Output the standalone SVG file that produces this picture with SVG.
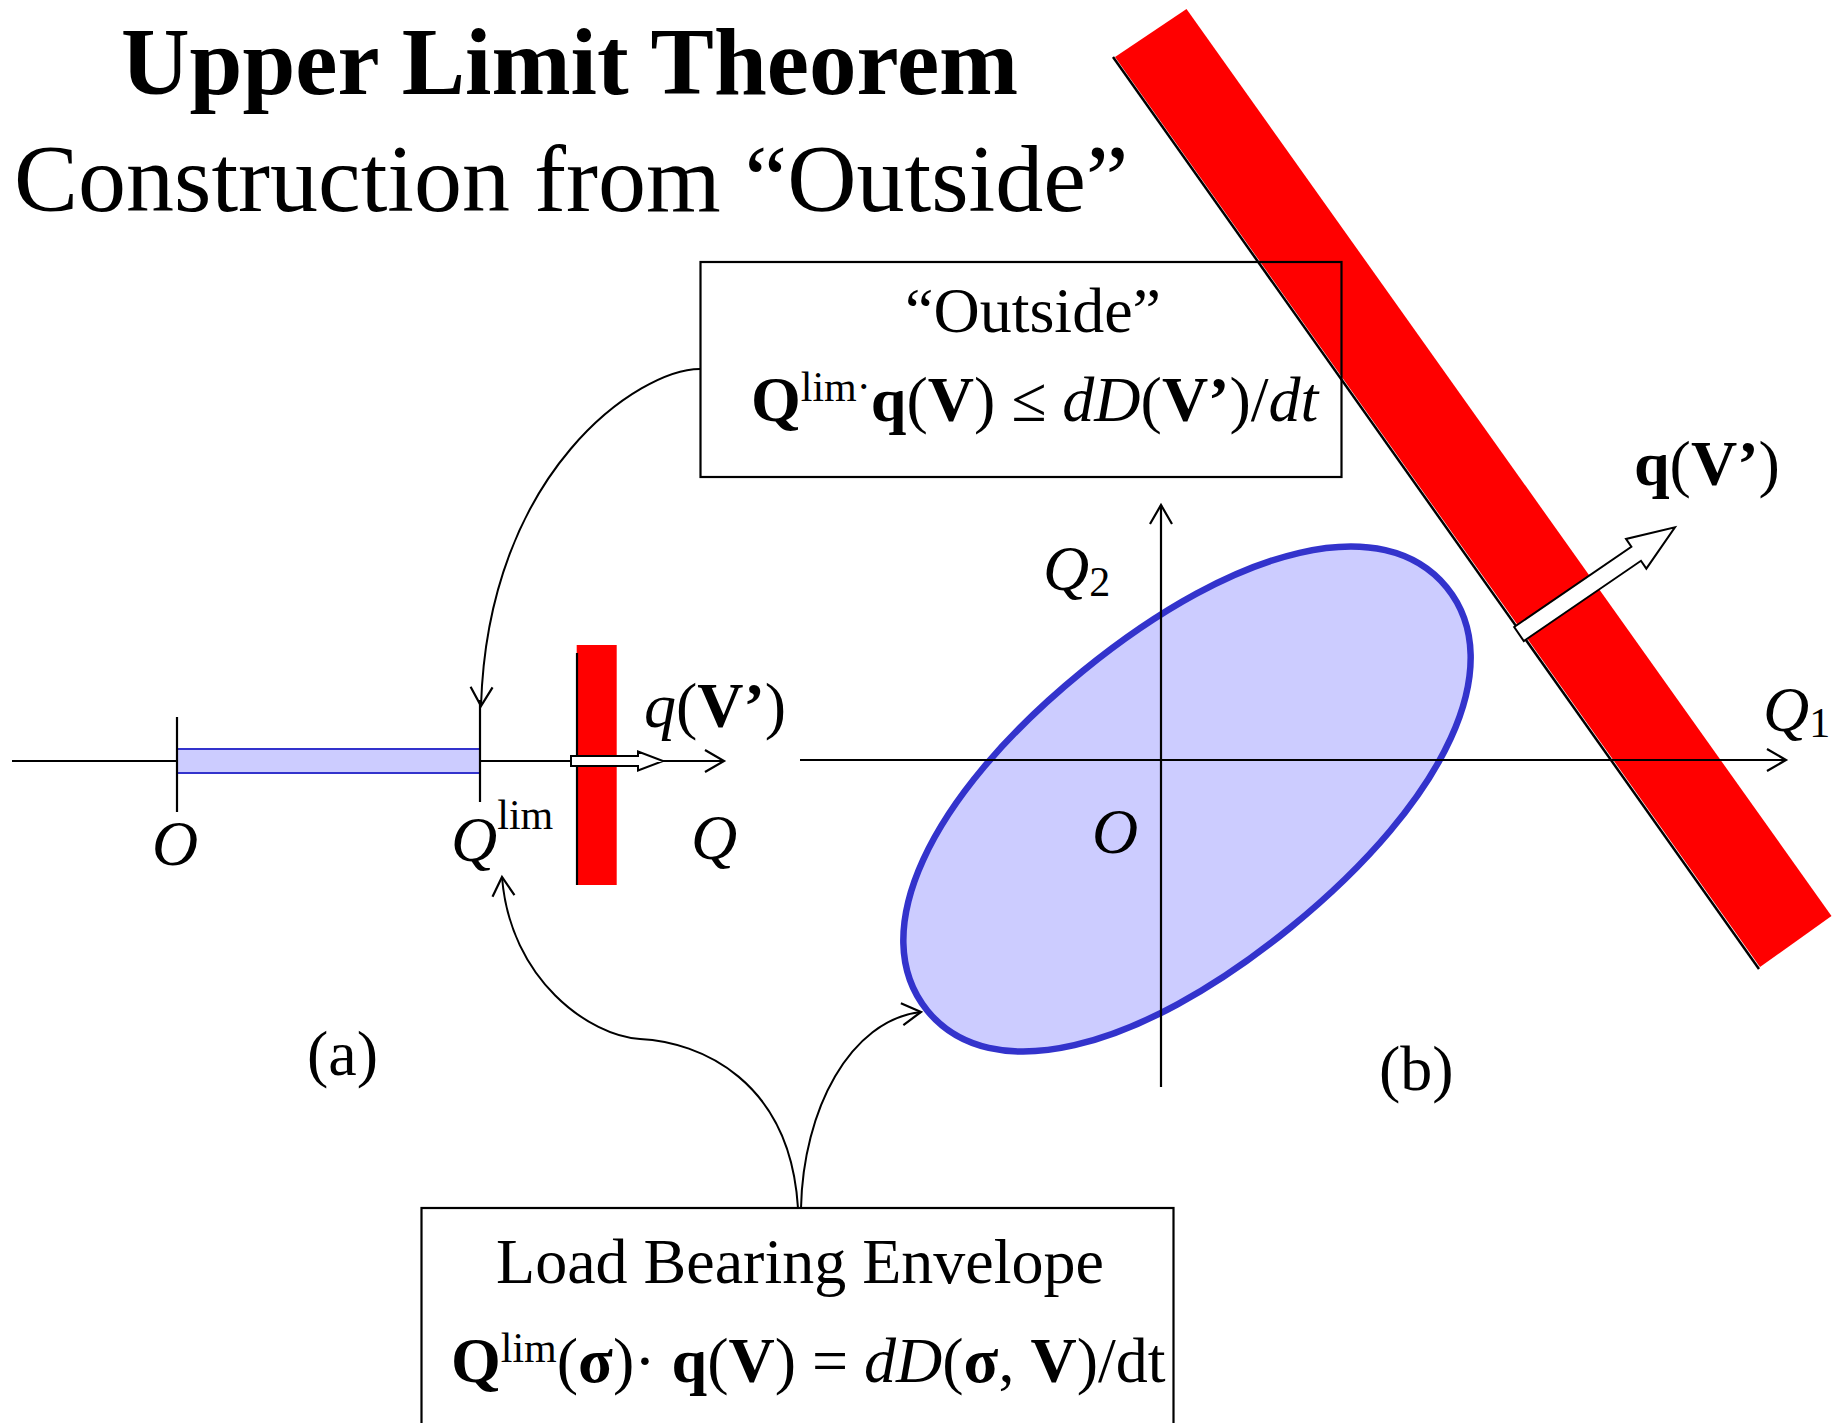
<svg xmlns="http://www.w3.org/2000/svg" width="1837" height="1423" viewBox="0 0 1837 1423">
<style>
text{font-family:"Liberation Serif","Times New Roman",serif;fill:#000}
.t64{font-size:64px}
.it{font-style:italic}
.b{font-weight:bold}
.axis{stroke:#000;stroke-width:2.2;fill:none}
.conn{stroke:#000;stroke-width:2;fill:none}
.box{stroke:#000;stroke-width:2.2;fill:none}
.env{fill:#CCCCFF;stroke:#3333CC}
.red{fill:#FF0000;stroke:none}
.blk{fill:#fff;stroke:#000;stroke-width:2}
</style>
<defs>
<marker id="arr" viewBox="-22 -14 26 28" refX="0" refY="0" markerWidth="26" markerHeight="28" markerUnits="userSpaceOnUse" orient="auto">
<path d="M-19,-11 L0,0 L-19,11" fill="none" stroke="#000" stroke-width="2.2"/>
</marker>
</defs>

<g id="title">
<text x="121" y="94" font-size="95" class="b">Upper Limit Theorem</text>
<text x="14" y="211" font-size="96">Construction from “Outside”</text>
</g>

<g id="big-red-bar">
<polygon class="red" points="1115,57 1186.5,9 1831.5,916 1760,967"/>
<line x1="1113" y1="57" x2="1759" y2="969" stroke="#000" stroke-width="2.5"/>
</g>

<g id="panel-a">
<line class="axis" x1="12" y1="761" x2="724" y2="761" marker-end="url(#arr)"/>
<rect class="env" x="177" y="749" width="303" height="24" stroke-width="2"/>
<line class="axis" x1="177" y1="717" x2="177" y2="812"/>
<line class="axis" x1="480" y1="700" x2="480" y2="802"/>
<rect class="red" x="576.7" y="645" width="40" height="240"/>
<line x1="577" y1="653" x2="577" y2="885" stroke="#000" stroke-width="2.2"/>
<polygon class="blk" points="571,756 638,756 638,751.5 663,761 638,770.5 638,766 571,766"/>
<text class="t64" x="644" y="727"><tspan class="it">q</tspan>(<tspan class="b">V’</tspan>)</text>
<text class="t64 it" x="152" y="865">O</text>
<text class="t64" x="451" y="861"><tspan class="it">Q</tspan><tspan font-size="42" dy="-32">lim</tspan></text>
<text class="t64 it" x="691" y="859">Q</text>
<text class="t64" x="307" y="1075">(a)</text>
</g>

<g id="panel-b">
<path class="env" stroke-width="6.5" transform="translate(1187,799) rotate(-39.2)" d="M335,0 C335,99 201,165 0,165 C-201,165 -335,99 -335,0 C-335,-99 -201,-165 0,-165 C201,-165 335,-99 335,0 Z"/>
<line class="axis" x1="800" y1="760" x2="1786" y2="760" marker-end="url(#arr)"/>
<line class="axis" x1="1161" y1="1087" x2="1161" y2="505" marker-end="url(#arr)"/>
<polygon class="blk" transform="translate(1519,634) rotate(-34.4)" points="0,-8.5 142,-8.5 142,-18 189,0 142,18 142,8.5 0,8.5"/>
<text class="t64 b" x="1634" y="485">q<tspan font-weight="normal">(</tspan>V’<tspan font-weight="normal">)</tspan></text>
<text class="t64" x="1043" y="590"><tspan class="it">Q</tspan><tspan font-size="42" dy="6">2</tspan></text>
<text class="t64" x="1763" y="731"><tspan class="it">Q</tspan><tspan font-size="42" dy="6">1</tspan></text>
<text class="t64 it" x="1092" y="853">O</text>
<text class="t64" x="1379" y="1090">(b)</text>
</g>

<g id="outside-box">
<rect class="box" x="700.5" y="262" width="641" height="215"/>
<text class="t64" x="1033" y="332" text-anchor="middle">“Outside”</text>
<text class="t64" x="751" y="421"><tspan class="b">Q</tspan><tspan font-size="42" dy="-20">lim·</tspan><tspan class="b" dy="20">q</tspan>(<tspan class="b">V</tspan>) ≤ <tspan class="it">dD</tspan>(<tspan class="b">V’</tspan>)/<tspan class="it">dt</tspan></text>
</g>

<g id="envelope-box">
<rect class="box" x="421.5" y="1208" width="752" height="240"/>
<text class="t64" x="800" y="1283" text-anchor="middle">Load Bearing Envelope</text>
<text class="t64" x="451" y="1382"><tspan class="b">Q</tspan><tspan font-size="42" dy="-20">lim</tspan><tspan dy="20">(</tspan><tspan class="b">σ</tspan>)· <tspan class="b">q</tspan>(<tspan class="b">V</tspan>) = <tspan class="it">dD</tspan>(<tspan class="b">σ</tspan>, <tspan class="b">V</tspan>)/dt</text>
</g>

<g id="connectors">
<path class="conn" d="M700,369 C640,369 488,470 481,706" marker-end="url(#arr)"/>
<path class="conn" d="M798,1208 C790,1080 700,1042 640,1039 C590,1036 510,980 502,877" marker-end="url(#arr)"/>
<path class="conn" d="M801,1208 C803,1110 850,1020 921,1012" marker-end="url(#arr)"/>
</g>
</svg>
